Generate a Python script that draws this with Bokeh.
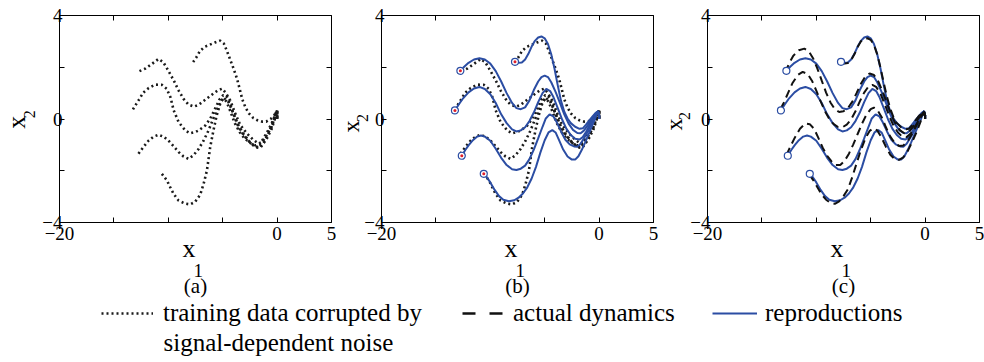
import math
from bokeh.plotting import figure
from bokeh.models import Range1d, FixedTicker, LinearAxis, Label, Legend, LegendItem
from bokeh.layouts import row, column
from bokeh.embed import file_html
from bokeh.resources import INLINE

# ---------------- data ----------------
# reproductions (blue), panels (b) and (c)
rep1_x = [-12.75, -12.4, -12.0, -11.5, -11.0, -10.5, -10.0, -9.5, -9.0, -8.5, -8.0, -7.6, -7.2, -6.8, -6.4, -6.0, -5.6, -5.3, -5.0, -4.7, -4.4, -4.0, -3.6, -3.2, -2.8, -2.4, -2.0, -1.7, -1.4, -1.0, -0.6, -0.3, -0.1, 0.0, 0.0]
rep1_y = [1.86, 2.02, 2.17, 2.30, 2.35, 2.30, 2.14, 1.85, 1.45, 1.00, 0.62, 0.42, 0.38, 0.45, 0.72, 1.12, 1.45, 1.62, 1.68, 1.62, 1.42, 1.05, 0.62, 0.18, -0.18, -0.42, -0.54, -0.55, -0.45, -0.22, 0.05, 0.22, 0.30, 0.15, 0.0]
rep2_x = [-13.25, -12.9, -12.5, -12.0, -11.5, -11.0, -10.5, -10.0, -9.5, -9.0, -8.5, -8.0, -7.6, -7.2, -6.8, -6.4, -6.0, -5.6, -5.2, -4.85, -4.5, -4.2, -3.8, -3.4, -3.0, -2.6, -2.2, -1.8, -1.5, -1.2, -0.9, -0.6, -0.3, -0.1, 0.0, 0.0]
rep2_y = [0.33, 0.56, 0.80, 1.03, 1.18, 1.24, 1.16, 0.96, 0.62, 0.18, -0.16, -0.40, -0.48, -0.44, -0.32, -0.08, 0.25, 0.65, 1.00, 1.16, 1.08, 0.85, 0.42, -0.02, -0.38, -0.62, -0.76, -0.79, -0.70, -0.50, -0.25, 0.00, 0.20, 0.30, 0.15, 0.0]
rep3_x = [-12.62, -12.3, -12.0, -11.6, -11.2, -10.85, -10.5, -10.0, -9.5, -9.0, -8.5, -8.0, -7.6, -7.2, -6.8, -6.4, -6.0, -5.6, -5.2, -4.9, -4.55, -4.2, -3.9, -3.5, -3.1, -2.7, -2.3, -2.0, -1.7, -1.4, -1.0, -0.7, -0.4, -0.1, 0.0, 0.0]
rep3_y = [-1.42, -1.20, -1.02, -0.82, -0.68, -0.64, -0.68, -0.84, -1.15, -1.50, -1.78, -1.94, -1.97, -1.92, -1.80, -1.55, -1.18, -0.75, -0.30, 0.02, 0.18, 0.10, -0.12, -0.48, -0.80, -0.98, -1.06, -1.07, -0.96, -0.75, -0.45, -0.18, 0.10, 0.30, 0.15, 0.0]
rep4_x = [-10.6, -10.3, -10.0, -9.6, -9.2, -8.8, -8.3, -7.8, -7.4, -7.0, -6.6, -6.2, -5.8, -5.4, -5.0, -4.65, -4.3, -4.0, -3.7, -3.3, -2.9, -2.5, -2.2, -1.9, -1.6, -1.3, -1.0, -0.7, -0.4, -0.15, 0.0, 0.0]
rep4_y = [-2.12, -2.26, -2.45, -2.74, -2.98, -3.12, -3.18, -3.14, -3.04, -2.88, -2.64, -2.30, -1.85, -1.30, -0.82, -0.52, -0.43, -0.52, -0.80, -1.18, -1.45, -1.57, -1.57, -1.44, -1.20, -0.92, -0.62, -0.32, -0.02, 0.25, 0.15, 0.0]
rep5_x = [-7.73, -7.4, -7.1, -6.8, -6.5, -6.2, -5.9, -5.6, -5.3, -5.0, -4.7, -4.4, -4.1, -3.8, -3.5, -3.2, -2.9, -2.6, -2.2, -1.8, -1.5, -1.2, -0.9, -0.6, -0.3, -0.1, 0.0, 0.0]
rep5_y = [2.21, 2.17, 2.18, 2.30, 2.52, 2.80, 3.02, 3.15, 3.19, 3.12, 2.90, 2.50, 1.95, 1.30, 0.70, 0.28, 0.02, -0.16, -0.30, -0.38, -0.36, -0.22, -0.05, 0.10, 0.24, 0.30, 0.15, 0.0]

# actual dynamics (dashed), panel (c)
act1_x = [-12.85, -12.5, -12.1, -11.6, -11.1, -10.7, -10.3, -9.9, -9.5, -9.1, -8.7, -8.3, -7.9, -7.5, -7.1, -6.7, -6.3, -5.9, -5.5, -5.1, -4.7, -4.3, -3.9, -3.5, -3.1, -2.7, -2.3, -1.9, -1.5, -1.1, -0.7, -0.35, -0.1, 0.0, 0.0]
act1_y = [1.80, 2.15, 2.45, 2.66, 2.72, 2.62, 2.35, 1.95, 1.48, 1.02, 0.64, 0.38, 0.27, 0.30, 0.42, 0.66, 1.00, 1.36, 1.64, 1.76, 1.70, 1.45, 1.06, 0.60, 0.16, -0.20, -0.44, -0.55, -0.50, -0.30, -0.04, 0.18, 0.30, 0.15, 0.0]
act2_x = [-13.3, -13.0, -12.6, -12.2, -11.7, -11.25, -10.8, -10.4, -10.0, -9.6, -9.2, -8.8, -8.4, -8.0, -7.6, -7.2, -6.8, -6.4, -6.0, -5.6, -5.2, -4.85, -4.5, -4.1, -3.7, -3.3, -2.9, -2.5, -2.1, -1.7, -1.3, -0.9, -0.5, -0.2, 0.0, 0.0]
act2_y = [0.38, 0.62, 1.00, 1.38, 1.70, 1.82, 1.74, 1.48, 1.10, 0.68, 0.30, 0.00, -0.20, -0.31, -0.32, -0.22, -0.02, 0.30, 0.68, 1.02, 1.26, 1.32, 1.24, 0.98, 0.56, 0.12, -0.26, -0.52, -0.68, -0.70, -0.55, -0.28, 0.02, 0.24, 0.15, 0.0]
act3_x = [-12.75, -12.4, -12.0, -11.5, -11.0, -10.6, -10.2, -9.8, -9.4, -9.0, -8.6, -8.2, -7.8, -7.4, -7.0, -6.6, -6.2, -5.8, -5.4, -5.0, -4.7, -4.4, -4.0, -3.6, -3.2, -2.8, -2.4, -2.0, -1.6, -1.2, -0.8, -0.4, -0.1, 0.0, 0.0]
act3_y = [-1.40, -1.08, -0.74, -0.38, -0.17, -0.20, -0.38, -0.74, -1.12, -1.42, -1.64, -1.78, -1.78, -1.62, -1.34, -0.98, -0.58, -0.18, 0.16, 0.38, 0.44, 0.36, 0.08, -0.32, -0.68, -0.92, -1.04, -1.02, -0.86, -0.58, -0.26, 0.06, 0.28, 0.15, 0.0]
act4_x = [-10.65, -10.3, -9.9, -9.5, -9.1, -8.7, -8.3, -7.9, -7.5, -7.1, -6.7, -6.3, -5.9, -5.5, -5.1, -4.75, -4.4, -4.0, -3.6, -3.2, -2.8, -2.4, -2.0, -1.6, -1.2, -0.8, -0.45, -0.15, 0.0, 0.0]
act4_y = [-2.14, -2.35, -2.64, -2.92, -3.12, -3.24, -3.28, -3.18, -2.98, -2.72, -2.25, -1.72, -1.20, -0.76, -0.46, -0.36, -0.44, -0.72, -1.08, -1.38, -1.55, -1.58, -1.48, -1.24, -0.90, -0.52, -0.14, 0.22, 0.15, 0.0]
act5_x = [-7.73, -7.4, -7.1, -6.8, -6.5, -6.2, -5.9, -5.6, -5.3, -5.0, -4.7, -4.4, -4.1, -3.8, -3.5, -3.2, -2.9, -2.6, -2.2, -1.8, -1.5, -1.2, -0.9, -0.6, -0.3, -0.1, 0.0, 0.0]
act5_y = [2.20, 2.14, 2.16, 2.28, 2.50, 2.78, 3.00, 3.10, 3.12, 3.06, 2.86, 2.50, 1.98, 1.40, 0.85, 0.40, 0.06, -0.16, -0.32, -0.40, -0.38, -0.25, -0.06, 0.10, 0.24, 0.30, 0.15, 0.0]

# training data corrupted by signal-dependent noise (dotted), panels (a) and (b)
trn1_x = [-12.65, -12.1, -11.5, -10.9, -10.45, -10.0, -9.5, -9.05, -8.6, -8.15, -7.65, -7.2, -6.8, -6.3, -5.8, -5.4, -5.05, -4.7, -4.3, -3.85, -3.4, -2.8, -2.2, -1.7, -1.35, -1.0, -0.5, -0.1, 0.0, 0.0]
trn1_y = [1.85, 1.95, 2.13, 2.32, 2.19, 1.87, 1.49, 1.10, 0.78, 0.56, 0.48, 0.55, 0.68, 0.84, 1.00, 1.12, 1.17, 1.00, 0.71, 0.22, -0.22, -0.55, -0.80, -0.95, -0.88, -0.66, -0.30, 0.20, 0.32, 0.0]
trn2_x = [-13.25, -12.75, -12.3, -11.8, -11.2, -10.6, -10.15, -9.8, -9.5, -9.05, -8.45, -8.0, -7.5, -7.2, -6.6, -6.15, -5.7, -5.3, -4.95, -4.65, -4.3, -3.9, -3.5, -3.0, -2.5, -2.0, -1.6, -1.2, -0.8, -0.4, -0.1, 0.0, 0.0]
trn2_y = [0.37, 0.71, 1.02, 1.20, 1.33, 1.32, 1.17, 0.84, 0.33, -0.12, -0.44, -0.55, -0.50, -0.44, -0.25, 0.01, 0.40, 0.75, 0.92, 0.90, 0.58, 0.05, -0.35, -0.66, -0.90, -1.06, -1.10, -0.88, -0.55, -0.15, 0.25, 0.32, 0.0]
trn3_x = [-12.74, -12.3, -11.8, -11.35, -10.9, -10.45, -10.0, -9.5, -9.05, -8.6, -8.15, -7.7, -7.2, -6.75, -6.3, -5.9, -5.5, -5.2, -4.95, -4.65, -4.3, -3.9, -3.45, -3.0, -2.5, -2.0, -1.6, -1.2, -0.8, -0.4, -0.1, 0.0, 0.0]
trn3_y = [-1.34, -1.09, -0.83, -0.68, -0.61, -0.68, -0.83, -1.06, -1.28, -1.45, -1.54, -1.41, -1.15, -0.83, -0.44, -0.02, 0.38, 0.65, 0.78, 0.68, 0.30, -0.15, -0.50, -0.75, -0.92, -1.02, -0.98, -0.72, -0.42, -0.08, 0.25, 0.32, 0.0]
trn4_x = [-10.59, -10.13, -9.83, -9.52, -9.06, -8.45, -8.0, -7.55, -7.07, -6.75, -6.45, -6.15, -5.85, -5.55, -5.23, -4.93, -4.47, -4.0, -3.55, -3.1, -2.5, -2.0, -1.55, -0.95, -0.5, -0.1, 0.0, 0.0]
trn4_y = [-2.12, -2.37, -2.63, -2.89, -3.15, -3.27, -3.30, -3.21, -2.93, -2.50, -1.99, -1.09, -0.44, 0.14, 0.59, 0.84, 0.65, 0.20, -0.25, -0.57, -0.90, -1.09, -1.12, -0.76, -0.38, 0.15, 0.32, 0.0]
trn5_x = [-7.72, -7.45, -7.1, -6.7, -6.2, -5.7, -5.25, -4.9, -4.6, -4.3, -4.0, -3.7, -3.45, -3.2, -2.9, -2.6, -2.2, -1.8, -1.4, -1.0, -0.6, -0.3, 0.0, 0.0]
trn5_y = [2.20, 2.36, 2.62, 2.78, 2.87, 2.96, 3.03, 2.92, 2.62, 2.28, 1.95, 1.58, 1.18, 0.76, 0.44, 0.22, 0.04, -0.05, -0.10, -0.10, 0.00, 0.12, 0.32, 0.0]

x_ticks = [-20, -15, -10, -5, 0, 5]
x_tick_labels = ["\u221220", "", "", "", "0", "5"]
y_ticks = [-4, -2, 0, 2, 4]
y_tick_labels = ["\u22124", "", "0", "", "4"]
captions = ["(a)", "(b)", "(c)"]
legend_labels = ["training data corrupted by", "signal-dependent noise", "actual dynamics", "reproductions"]

reps = [(rep1_x, rep1_y), (rep2_x, rep2_y), (rep3_x, rep3_y), (rep4_x, rep4_y), (rep5_x, rep5_y)]
acts = [(act1_x, act1_y), (act2_x, act2_y), (act3_x, act3_y), (act4_x, act4_y), (act5_x, act5_y)]
trns = [(trn1_x, trn1_y), (trn2_x, trn2_y), (trn3_x, trn3_y), (trn4_x, trn4_y), (trn5_x, trn5_y)]
start_x = [r[0][0] for r in reps]
start_y = [r[1][0] for r in reps]

# ---------------- styling / layout ----------------
BLUE = "#2B4DA3"
SERIF = "Liberation Serif"
DOT = dict(line_color="#1a1a1a", line_width=2.6, line_dash="2 3")
DASH = dict(line_color="#111111", line_width=2.0, line_dash="8 5")
SOLID = dict(line_color=BLUE, line_width=2.0)

H = 300          # height of each panel canvas
BOX_W, BOX_H = 272, 207
BOX_TOP = 15
X0, X1, Y0, Y1 = -20, 5, -4, 4
MID = 0.3375     # distance from text middle to baseline, in em


def style_axis(ax, ticks, labels, show, fixed, bounds, standoff):
    ax.ticker = FixedTicker(ticks=ticks)
    ax.fixed_location = fixed
    ax.bounds = bounds
    ax.major_tick_in = 5
    ax.major_tick_out = 0
    ax.minor_tick_line_color = None
    ax.axis_line_color = "black"
    ax.axis_line_width = 1
    ax.major_tick_line_color = "black"
    ax.major_tick_line_width = 1
    ax.major_label_text_font = SERIF
    ax.major_label_text_color = "black"
    if show:
        ax.major_label_overrides = {t: l for t, l in zip(ticks, labels)}
        ax.major_label_text_font_size = "19px"
        ax.major_label_standoff = standoff
    else:
        ax.major_label_overrides = {t: "" for t in ticks}
        ax.major_label_text_font_size = "1px"
        ax.major_label_standoff = 0


def txt(p, x, y, text, size, angle=0.0, align="left"):
    p.add_layout(Label(x=x, y=y, x_units="screen", y_units="screen", text=text, angle=angle,
                       text_font=SERIF, text_font_size=f"{size}px", text_color="black",
                       text_align=align, text_baseline="middle"))


def make_panel(width, box_left, caption, ylab_dx, ylab_bottom, ylab_size, sub_dx):
    ppx = BOX_W / (X1 - X0)
    ppy = BOX_H / (Y1 - Y0)
    xr = Range1d(X0 - box_left / ppx, X1 + (width - box_left - BOX_W) / ppx)
    yr = Range1d(Y0 - (H - BOX_TOP - BOX_H) / ppy, Y1 + BOX_TOP / ppy)
    p = figure(frame_width=width, frame_height=H, x_range=xr, y_range=yr,
               x_axis_type=None, y_axis_type=None,
               toolbar_location=None, output_backend="svg", min_border=0)
    p.grid.visible = False
    p.outline_line_color = None
    p.background_fill_color = "white"
    p.border_fill_color = "white"
    for loc, ticks, labels, show, fixed, bounds, so in [
            ("below", x_ticks, x_tick_labels, True, Y0, (X0, X1), 4),
            ("left", y_ticks, y_tick_labels, True, X0, (Y0, Y1), -3),
            ("above", x_ticks, x_tick_labels, False, Y1, (X0, X1), 0),
            ("right", y_ticks, y_tick_labels, False, X1, (Y0, Y1), 0)]:
        ax = LinearAxis()
        style_axis(ax, ticks, labels, show, fixed, bounds, so)
        p.add_layout(ax, loc)
    # x_1 label (baselines at 257 and 276.5 from the top)
    txt(p, box_left + 123.0, H - (257.0 - MID * 26), "x", 26)
    txt(p, box_left + 134.0, H - (276.5 - MID * 19), "1", 19)
    # x_2 label (rotated; baseline of the x at box_left + ylab_dx)
    txt(p, box_left + ylab_dx - MID * ylab_size, H - ylab_bottom, "x", ylab_size, angle=math.pi / 2)
    txt(p, box_left + ylab_dx + sub_dx - MID * 16, H - ylab_bottom + 10.6, "2", 16, angle=math.pi / 2)
    # caption (baseline at 293)
    txt(p, box_left + BOX_W / 2, H - (293.0 - MID * 21), caption, 21, align="center")
    return p


p1 = make_panel(336, 59, captions[0], -34.5, 128.3, 26, 10.0)
for xs, ys in trns:
    p1.line(xs, ys, **DOT)

p2 = make_panel(323, 45, captions[1], -22.0, 132.0, 24, 8.0)
for xs, ys in trns:
    p2.line(xs, ys, **DOT)
for xs, ys in reps:
    p2.line(xs, ys, **SOLID)
p2.scatter(start_x, start_y, marker="circle", size=7, line_color=BLUE, line_width=1.2, fill_color="white")
p2.scatter(start_x, start_y, marker="circle", size=3, line_color=None, fill_color="#e0202a")

p3 = make_panel(325, 48, captions[2], -25.5, 130.0, 24, 8.0)
for xs, ys in reps:
    p3.line(xs, ys, **SOLID)
for xs, ys in acts:
    p3.line(xs, ys, **DASH)
p3.scatter(start_x, start_y, marker="circle", size=7, line_color=BLUE, line_width=1.2, fill_color="white")

# ---------------- legend strip ----------------
LH = 362 - H
leg = figure(frame_width=984, frame_height=LH, x_range=Range1d(0, 1), y_range=Range1d(0, 1),
             x_axis_type=None, y_axis_type=None, toolbar_location=None, output_backend="svg",
             min_border=0)
leg.grid.visible = False
leg.outline_line_color = None
nan = float("nan")
r_dot = leg.line([nan, nan], [nan, nan], **DOT)
r_dash = leg.line([nan, nan], [nan, nan], line_color="#111111", line_width=2.4, line_dash="13 14")
r_solid = leg.line([nan, nan], [nan, nan], line_color=BLUE, line_width=2.2)


def add_legend(renderer, label, x, y, gw, standoff):
    lg = Legend(items=[LegendItem(label=label, renderers=[renderer])], location=(x, y),
                glyph_width=gw, glyph_height=20, label_standoff=standoff,
                label_text_font=SERIF, label_text_font_size="25px", label_text_color="black",
                border_line_color=None, background_fill_alpha=0, padding=0, margin=0, spacing=0)
    leg.add_layout(lg)


add_legend(r_dot, legend_labels[0], 101, 35, 52, 10)
add_legend(r_dash, legend_labels[2], 462, 35, 41, 10)
add_legend(r_solid, legend_labels[3], 712, 35, 45, 8)
txt(leg, 163, 20, legend_labels[1], 25)

layout = column(row(p1, p2, p3), leg)
open("out.html", "w").write(file_html(layout, INLINE))
